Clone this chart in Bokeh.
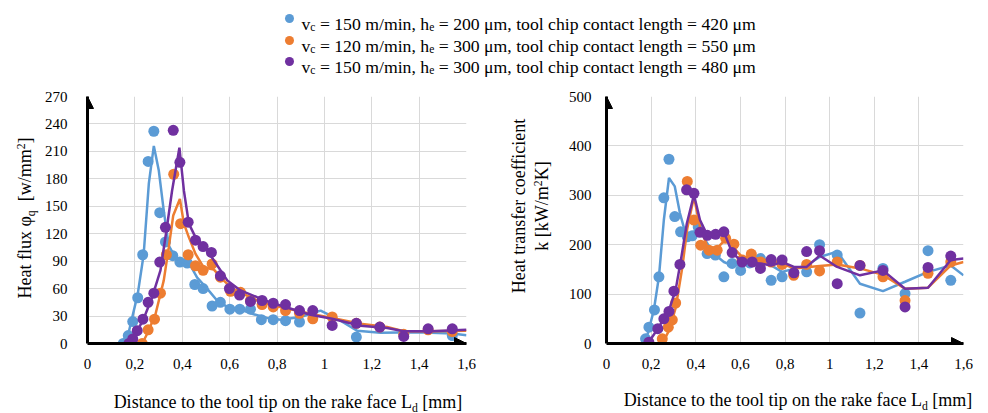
import math
from bokeh.plotting import figure
from bokeh.layouts import column, row
from bokeh.models import Range1d, FixedTicker, Label, Arrow, NormalHead, Div
from bokeh.embed import file_html
from bokeh.resources import INLINE

FONT = "Liberation Serif"
TICK_FONT = "'Liberation Serif', 'Times New Roman', serif"
CSS_FONT = "'Liberation Serif', 'Times New Roman', serif"
BLUE = "#5B9BD5"
ORANGE = "#ED7D31"
PURPLE = "#7030A0"

# ---------------- data ----------------
x_ticks = [0, 0.2, 0.4, 0.6, 0.8, 1.0, 1.2, 1.4, 1.6]
x_tick_labels = ["0", "0,2", "0,4", "0,6", "0,8", "1", "1,2", "1,4", "1,6"]
hf_ticks = [0, 30, 60, 90, 120, 150, 180, 210, 240, 270]
k_ticks = [0, 100, 200, 300, 400, 500]

# heat flux - measured points
hf_blue_x = [0.151, 0.172, 0.191, 0.212, 0.233, 0.256, 0.280, 0.305, 0.329, 0.360, 0.390, 0.421,
             0.453, 0.488, 0.526, 0.561, 0.601, 0.643, 0.688, 0.734, 0.784, 0.836, 0.895, 1.135, 1.540]
hf_blue_y = [0, 8.7, 24, 50, 97, 199, 232, 143, 111, 96, 89, 88,
             64.5, 60, 41, 45, 37.5, 37.5, 37.5, 26, 26, 25, 23.5, 7, 8.7]
hf_orange_x = [0.231, 0.256, 0.283, 0.308, 0.333, 0.364, 0.393, 0.425, 0.456, 0.488, 0.526, 0.561,
               0.604, 0.646, 0.688, 0.737, 0.784, 0.836, 0.895, 0.951, 1.033, 1.135, 1.234, 1.335, 1.438, 1.540]
hf_orange_y = [0, 15, 26.6, 55, 97, 185, 131, 97, 85, 80, 87, 72.5,
               57, 56, 47, 42.6, 40, 36, 33, 27, 29, 22, 18, 10, 15, 13]
hf_purple_x = [0.175, 0.191, 0.210, 0.234, 0.256, 0.280, 0.305, 0.329, 0.362, 0.390, 0.425, 0.456,
               0.488, 0.523, 0.561, 0.599, 0.642, 0.688, 0.737, 0.784, 0.836, 0.895, 0.951, 1.033,
               1.135, 1.234, 1.335, 1.438, 1.540]
hf_purple_y = [0, 5, 14, 26.6, 45, 55, 89, 127, 233, 198, 132.6, 113,
               106, 99.5, 74, 60, 53, 46, 47, 44, 42.6, 36, 36, 19.7,
               22, 18, 7.7, 16, 16]

# heat flux - model curves
hf_blue_lx = [0.139, 0.170, 0.212, 0.237, 0.259, 0.280, 0.301, 0.322, 0.343, 0.371, 0.407, 0.435, 0.463,
              0.505, 0.547, 0.590, 0.645, 0.702, 0.758, 0.815, 0.899, 0.984, 1.054, 1.138, 1.237, 1.390, 1.540, 1.600]
hf_blue_ly = [0, 8, 54, 97, 175, 216, 189, 145, 107, 94, 89, 85, 72,
              60, 47, 40, 37, 32, 28, 26, 29, 36, 27, 14, 11.7, 12.4, 11, 9]
hf_orange_lx = [0.231, 0.252, 0.287, 0.322, 0.343, 0.362, 0.390, 0.407, 0.428, 0.456, 0.491, 0.533, 0.568,
                0.611, 0.660, 0.716, 0.780, 0.815, 0.941, 1.033, 1.152, 1.265, 1.335, 1.450, 1.600]
hf_orange_ly = [0, 10.6, 32, 69, 105, 140, 158, 131, 116, 98, 83, 81, 70.7,
                60, 54, 47, 41.5, 40, 32.5, 28, 21.5, 18, 13.5, 13.5, 14]
hf_purple_lx = [0.163, 0.196, 0.237, 0.273, 0.308, 0.333, 0.357, 0.388, 0.407, 0.428, 0.456, 0.500, 0.533,
                0.590, 0.646, 0.716, 0.780, 0.815, 0.941, 1.033, 1.152, 1.265, 1.335, 1.450, 1.600]
hf_purple_ly = [0, 7, 27, 50.6, 80, 123, 167, 214, 167, 131, 116, 104, 91,
                69, 58, 50.6, 44, 41.5, 31.5, 27, 19.5, 17, 13.5, 13.5, 15]

# heat transfer coefficient - measured points
k_blue_x = [0.175, 0.190, 0.215, 0.235, 0.257, 0.280, 0.306, 0.332, 0.362, 0.384, 0.411, 0.451, 0.488,
            0.526, 0.563, 0.601, 0.642, 0.690, 0.738, 0.787, 0.839, 0.897, 0.955, 1.034, 1.136, 1.239,
            1.338, 1.441, 1.543]
k_blue_y = [9.5, 33, 68, 135, 295, 373, 257, 226, 216, 218, 236, 182, 179,
            135, 162, 148, 163, 172, 128, 135, 143, 145, 200, 179, 61.6, 152,
            101, 188, 128]
k_orange_x = [0.250, 0.277, 0.295, 0.310, 0.362, 0.392, 0.422, 0.459, 0.496, 0.534, 0.571, 0.608, 0.649,
              0.690, 0.738, 0.787, 0.839, 0.897, 0.955, 1.034, 1.136, 1.239, 1.338, 1.441, 1.543]
k_orange_y = [9.5, 33, 48, 82, 328, 250, 199, 189, 189, 213, 201, 169, 181,
              165, 165, 160, 138, 160, 147, 165, 158, 135, 87, 142, 165]
k_purple_x = [0.190, 0.230, 0.257, 0.280, 0.302, 0.329, 0.359, 0.392, 0.419, 0.452, 0.489, 0.526, 0.563,
              0.608, 0.653, 0.690, 0.738, 0.787, 0.840, 0.897, 0.955, 1.034, 1.136, 1.239, 1.338, 1.441, 1.543]
k_purple_y = [2.7, 30, 50, 65, 106, 160, 311, 304, 225, 219, 221, 226, 184,
              165, 165, 152, 170, 169, 143, 186, 188, 121, 158, 148, 74, 154, 177]

# heat transfer coefficient - model curves
k_blue_lx = [0.160, 0.185, 0.212, 0.235, 0.257, 0.280, 0.306, 0.329, 0.354, 0.384, 0.414, 0.451, 0.488,
             0.526, 0.563, 0.608, 0.660, 0.690, 0.738, 0.787, 0.897, 0.955, 1.034, 1.136, 1.239, 1.338,
             1.441, 1.543, 1.600]
k_blue_ly = [0, 20, 67, 135, 250, 335, 318, 264, 223, 223, 236, 203, 179,
             165, 158, 161, 172, 172, 158, 145, 158, 175, 186, 121, 106, 125,
             145, 158, 138]
k_orange_lx = [0.250, 0.280, 0.310, 0.340, 0.362, 0.392, 0.419, 0.452, 0.496, 0.534, 0.571, 0.608, 0.653,
               0.690, 0.738, 0.787, 0.840, 0.955, 1.034, 1.136, 1.239, 1.338, 1.441, 1.543, 1.600]
k_orange_ly = [0, 26, 72, 155, 233, 297, 236, 196, 193, 211, 193, 175, 175,
               169, 169, 162, 152, 157, 160, 152, 139, 111, 113, 158, 165]
k_purple_lx = [0.185, 0.230, 0.280, 0.310, 0.332, 0.360, 0.392, 0.419, 0.452, 0.489, 0.526, 0.563, 0.608,
               0.653, 0.690, 0.738, 0.787, 0.840, 0.897, 0.955, 1.034, 1.136, 1.239, 1.338, 1.441, 1.543, 1.600]
k_purple_ly = [0, 30, 67, 109, 165, 243, 301, 250, 219, 221, 226, 184, 165,
               163, 162, 158, 165, 155, 155, 178, 155, 138, 148, 111, 113, 169, 172]

series_labels = [
    [("v", "n"), ("c", "sub"), (" = 150 m/min, h", "n"), ("e", "sub"),
     (" = 200 \u03bcm, tool chip contact length = 420 \u03bcm", "n")],
    [("v", "n"), ("c", "sub"), (" = 120 m/min, h", "n"), ("e", "sub"),
     (" = 300 \u03bcm, tool chip contact length = 550 \u03bcm", "n")],
    [("v", "n"), ("c", "sub"), (" = 150 m/min, h", "n"), ("e", "sub"),
     (" = 300 \u03bcm, tool chip contact length = 480 \u03bcm", "n")],
]
series_colors = [BLUE, ORANGE, PURPLE]


def sub(t):
    return f'<span style="font-size:0.65em;vertical-align:-0.3em;line-height:1">{t}</span>'


def sup(t):
    return f'<span style="font-size:0.65em;vertical-align:0.55em;line-height:1">{t}</span>'


XLABEL = f"Distance to the tool tip on the rake face L{sub('d')} [mm]"
HF_LABEL = f"Heat flux \u03c6{sub('q')}&nbsp;&nbsp;[w/mm{sup('2')}]"
K_LABEL = f"Heat transfer coefficient<br>k [kW/m{sup('2')}K]"

# ---------------- text helpers (legend) ----------------
TW = {" ": .25, "=": .564, ",": .25, "/": .278, "[": .333, "]": .333, ".": .25,
      "a": .444, "b": .5, "c": .444, "d": .5, "e": .444, "f": .333, "g": .5, "h": .5, "i": .278,
      "j": .278, "k": .5, "l": .278, "m": .778, "n": .5, "o": .5, "p": .5, "q": .5, "r": .333,
      "s": .389, "t": .278, "u": .5, "v": .5, "w": .722, "x": .5, "y": .5, "z": .444,
      "D": .722, "H": .722, "K": .722, "L": .611, "W": .944, "\u03bc": .576, "\u03c6": .52}
for d in "0123456789":
    TW[d] = .5


def tw(s, fs):
    return sum(TW.get(c, .5) for c in s) * fs


def rich(p, x, y, pieces, fs):
    pos = 0
    for t, m in pieces:
        s = fs if m == "n" else fs * 0.65
        shift = 0 if m == "n" else (0.2 * fs if m == "sub" else -0.36 * fs)
        p.add_layout(Label(text=t.replace(" ", "\u00a0"), x=x + pos, y=y + shift,
                           text_font=FONT, text_font_size=f"{s:.2f}px", text_color="black",
                           text_baseline="alphabetic", text_align="left"))
        pos += tw(t, s)


def make_plot(width, height, ymax, yticks, lb, rb, tb, bb, ystand):
    p = figure(width=width, height=height, x_range=Range1d(0, 1.6), y_range=Range1d(0, ymax),
               output_backend="svg", toolbar_location=None,
               min_border_left=lb, min_border_right=rb, min_border_top=tb, min_border_bottom=bb)
    p.outline_line_color = None
    p.xaxis.ticker = FixedTicker(ticks=x_ticks)
    p.xaxis.major_label_overrides = {t: l for t, l in zip(x_ticks, x_tick_labels)}
    p.yaxis.ticker = FixedTicker(ticks=yticks)
    p.axis.axis_line_width = 3
    p.axis.axis_line_color = "black"
    p.axis.major_tick_line_color = None
    p.axis.minor_tick_line_color = None
    p.axis.major_label_text_font = TICK_FONT
    p.axis.major_label_text_font_size = "15px"
    p.axis.major_label_text_color = "black"
    p.xaxis.major_label_standoff = 9
    p.yaxis.major_label_standoff = ystand
    p.xgrid.ticker = FixedTicker(ticks=x_ticks)
    p.ygrid.ticker = FixedTicker(ticks=yticks)
    p.grid.grid_line_color = "#D9D9D9"
    p.grid.grid_line_width = 1
    head = dict(size=12, fill_color="black", line_color="black", line_width=1)
    p.add_layout(Arrow(end=NormalHead(**head), x_start=0, y_start=ymax * 0.9, x_end=0, y_end=ymax,
                       line_alpha=0))
    p.add_layout(Arrow(end=NormalHead(**head), x_start=1.4, y_start=0, x_end=1.6, y_end=0,
                       line_alpha=0))
    return p


def add_series(p, pts, lines):
    for (px, py), (lx, ly), c in zip(pts, lines, series_colors):
        p.scatter(px, py, size=11, color=c, line_color=None)
        p.line(lx, ly, line_color=c, line_width=2.5)


def text_div(w, h, inner):
    return Div(text=f'<div style="position:relative;width:{w}px;height:{h}px;">{inner}</div>',
               width=w, height=h, margin=0, styles={"overflow": "visible"})


def xlabel_div(w, h, cx, baseline):
    W = 440
    top = baseline - 15.07
    inner = (f'<div style="position:absolute;left:{cx - W / 2:.1f}px;top:{top:.1f}px;width:{W}px;'
             f'text-align:center;font-family:{CSS_FONT};font-size:18px;line-height:18px;'
             f'white-space:nowrap;color:black">{XLABEL}</div>')
    return text_div(w, h, inner)


def ylabel_div(w, h, baseline_x, cy, html, lh):
    W = 300
    first_base = (lh - 19.93) / 2 + 16.04
    X = baseline_x - first_base
    Y = cy + W / 2
    inner = (f'<div style="position:absolute;left:0;top:0;width:{W}px;text-align:center;'
             f'font-family:{CSS_FONT};font-size:18px;line-height:{lh}px;white-space:nowrap;color:black;'
             f'transform-origin:0 0;transform:translate({X:.1f}px,{Y:.1f}px) rotate(-90deg)">{html}</div>')
    return text_div(w, h, inner)


# ---------------- legend strip (page y 0..88) ----------------
top = figure(width=988, height=88, x_range=Range1d(0, 988), y_range=Range1d(88, 0),
             output_backend="svg", toolbar_location=None, min_border=0,
             x_axis_location=None, y_axis_location=None)
top.outline_line_color = None
top.xgrid.visible = False
top.ygrid.visible = False
row_y = [18, 40, 61]
top.scatter([289, 289, 289], row_y, size=9, color=series_colors, line_color=None)
for yy, pieces in zip(row_y, series_labels):
    rich(top, 301, yy + 5, pieces, 17.7)

# ---------------- middle row (page y 88..378) ----------------
MH = 290
ylab_left = ylabel_div(40, MH, 31, 130, HF_LABEL, 18)

left = make_plot(460, MH, 270, hf_ticks, 47, 34, 8, 35, 14)
add_series(left,
           [(hf_blue_x, hf_blue_y), (hf_orange_x, hf_orange_y), (hf_purple_x, hf_purple_y)],
           [(hf_blue_lx, hf_blue_ly), (hf_orange_lx, hf_orange_ly), (hf_purple_lx, hf_purple_ly)])

ylab_right = ylabel_div(56, MH, 26, 118, K_LABEL, 23)

right = make_plot(432, MH, 500, k_ticks, 50, 25, 8, 35, 9)
add_series(right,
           [(k_blue_x, k_blue_y), (k_orange_x, k_orange_y), (k_purple_x, k_purple_y)],
           [(k_blue_lx, k_blue_ly), (k_orange_lx, k_orange_ly), (k_purple_lx, k_purple_ly)])

# ---------------- x-axis label row (page y 378..413) ----------------
xl_left = xlabel_div(500, 35, 288, 30)
xl_right = xlabel_div(488, 35, 298, 28)

layout = column(top,
                row(ylab_left, left, ylab_right, right, spacing=0),
                row(xl_left, xl_right, spacing=0),
                spacing=0)
open("out.html", "w").write(file_html(layout, INLINE))
